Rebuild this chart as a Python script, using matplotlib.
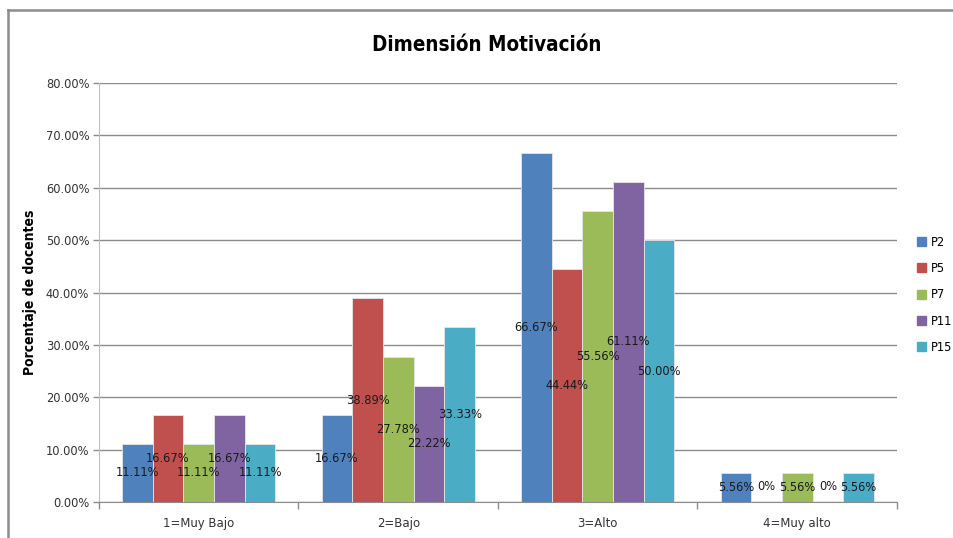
import matplotlib
matplotlib.use("Agg")
import matplotlib.pyplot as plt
from matplotlib.patches import Rectangle
from matplotlib.lines import Line2D
import numpy as np

categories = ["1=Muy Bajo", "2=Bajo", "3=Alto", "4=Muy alto"]
series_names = ["P2", "P5", "P7", "P11", "P15"]
p2 = [11.11, 16.67, 66.67, 5.56]
p5 = [16.67, 38.89, 44.44, 0.0]
p7 = [11.11, 27.78, 55.56, 5.56]
p11 = [16.67, 22.22, 61.11, 0.0]
p15 = [11.11, 33.33, 50.00, 5.56]
y_ticks = [0, 10, 20, 30, 40, 50, 60, 70, 80]

colors = ["#4F81BD", "#C0504D", "#9BBB59", "#8064A2", "#4BACC6"]
series = [p2, p5, p7, p11, p15]

plt.rcParams["font.family"] = ["Liberation Sans Narrow", "DejaVu Sans"]
plt.rcParams["font.stretch"] = "condensed"

fig = plt.figure(figsize=(9.54, 5.38), dpi=100)
ax = fig.add_axes([99 / 954, 36 / 538, 798 / 954, 419 / 538])

n = len(series)
bar_w = 1.0 / (n + 1.5)
x = np.arange(len(categories))
for i, (vals, col) in enumerate(zip(series, colors)):
    offs = (i - (n - 1) / 2) * bar_w
    ax.bar(x + offs, vals, width=bar_w, color=col, edgecolor="#E6E6E6",
           linewidth=0.6, label=series_names[i], zorder=3)
    for xi, v in zip(x, vals):
        ypos = v / 2 if v > 0 else 2.9
        txt = f"{v:.2f}%" if v > 0 else "0%"
        ax.text(xi + offs, ypos, txt, ha="center", va="center",
                fontsize=9.2, color="#1a1a1a", zorder=4)

ax.set_xlim(-0.5, len(categories) - 0.5)
ax.set_ylim(0, 80)
ax.set_yticks(y_ticks)
ax.set_yticklabels([f"{t:.2f}%" for t in y_ticks], fontsize=9.2, color="#333333")
ax.yaxis.grid(True, color="#8C8C8C", linewidth=1.0, zorder=0)
ax.set_axisbelow(True)

ax.set_xticks(x)
ax.set_xticklabels(categories, fontsize=9.4, color="#333333")
ax.tick_params(axis="x", length=0, pad=11)
ax.set_xticks(np.arange(-0.5, len(categories), 1.0), minor=True)
ax.tick_params(axis="x", which="minor", length=5, color="#8C8C8C", width=1)
ax.tick_params(axis="y", length=4, color="#8C8C8C", width=1, pad=3)

for s in ["top", "right"]:
    ax.spines[s].set_visible(False)
ax.spines["left"].set_color("#BFBFBF")
ax.spines["bottom"].set_color("#8C8C8C")

ax.set_ylabel("Porcentaje de docentes", fontsize=10, fontweight="bold")
ax.yaxis.set_label_coords(-62 / 798, 0.5)

fig.text(487 / 954, 1 - 45 / 538, "Dimensión Motivación", ha="center", va="center",
         fontsize=14.8, fontweight="bold")

handles = [Rectangle((0, 0), 1, 1, color=c) for c in colors]
leg = fig.legend(handles, series_names, loc="center left",
                 bbox_to_anchor=(917 / 954, 1 - 295 / 538), frameon=False,
                 fontsize=9.2, handlelength=0.7, handleheight=0.7,
                 handletextpad=0.35, labelspacing=1.05, borderpad=0,
                 borderaxespad=0)

# chart area border
fig.add_artist(Line2D([8 / 954, 8 / 954], [0, 1 - 10 / 538], transform=fig.transFigure,
                      color="#8C8C8C", linewidth=1.8))
fig.add_artist(Line2D([8 / 954, 1], [1 - 10 / 538, 1 - 10 / 538], transform=fig.transFigure,
                      color="#8C8C8C", linewidth=1.8))

fig.savefig("out.png", dpi=100)
